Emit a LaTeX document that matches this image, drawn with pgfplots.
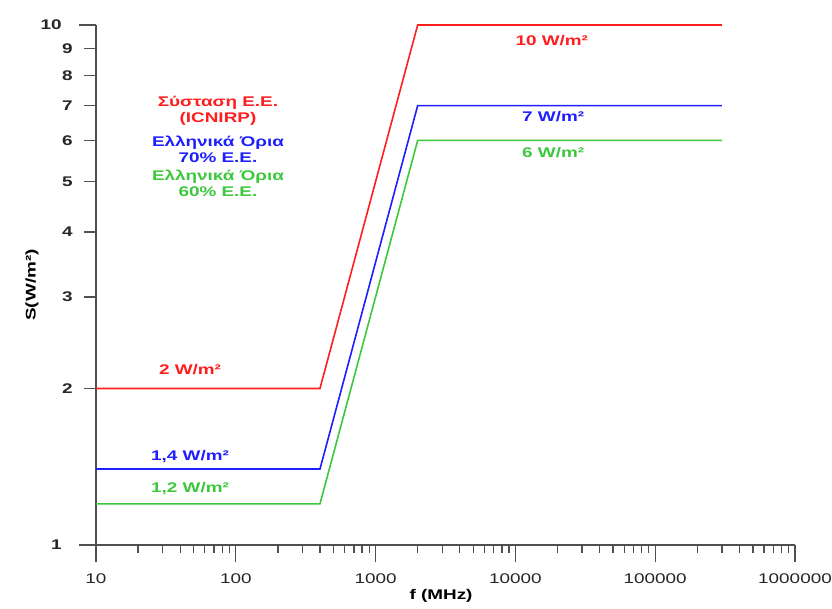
\documentclass[border=0pt]{standalone}
\usepackage{fontspec}
\setmainfont{Liberation Sans}[FakeStretch=1.35]
\usepackage{pgfplots}
\pgfplotsset{compat=1.18}
\definecolor{cred}{HTML}{FF1E1E}
\definecolor{cblue}{HTML}{1E1EFF}
\definecolor{cgreen}{HTML}{3CC83C}
\definecolor{axgray}{HTML}{505050}
\begin{document}
\begin{tikzpicture}
\begin{loglogaxis}[
  scale only axis, width=699pt, height=520pt,
  xmin=10, xmax=1000000, ymin=1, ymax=10,
  axis x line=bottom, axis y line=left,
  axis line style={-, axgray, line width=1.3pt},
  every tick/.style={axgray, line width=1.3pt},
  tick align=outside,
  major tick length=17pt, minor tick length=8pt,
  xtick={10,100,1000,10000,100000,1000000},
  xticklabels={10,100,1000,10000,100000,1000000},
  ytick={1,10}, yticklabels={1,10},
  extra y ticks={2,3,4,5,6,7,8,9},
  extra y tick labels={2,3,4,5,6,7,8,9},
  extra y tick style={major tick length=12pt, yticklabel style={xshift=6pt}},
  xticklabel style={font=\fontsize{14}{14}\selectfont, text=black!85, yshift=-8pt},
  yticklabel style={font=\bfseries\fontsize{14}{14}\selectfont, text=black!85, xshift=-14pt},
  xlabel={f (MHz)}, ylabel={S(W/m²)},
  every axis x label/.style={at={(axis description cs:0.4936,-0.098)}, anchor=center, font=\bfseries\fontsize{14}{14}\selectfont},
  every axis y label/.style={at={(axis description cs:-0.0916,0.5)}, anchor=center, rotate=90, font=\bfseries\fontsize{14}{14}\selectfont},
  clip=false,
]
\addplot[cred, line width=1.6pt] coordinates {(10,2) (400,2) (2000,10) (300000,10)};
\addplot[cblue, line width=1.6pt] coordinates {(10,1.4) (400,1.4) (2000,7) (300000,7)};
\addplot[cgreen, line width=1.6pt] coordinates {(10,1.2) (400,1.2) (2000,6) (300000,6)};
\begin{scope}[every node/.style={font=\bfseries\fontsize{14}{15.5}\selectfont, align=center}]
\node[text=cred] at (rel axis cs:0.1345,0.3365) {2 W/m²};
\node[text=cblue] at (rel axis cs:0.1345,0.171) {1,4 W/m²};
\node[text=cgreen] at (rel axis cs:0.1345,0.1077) {1,2 W/m²};
\node[text=cred] at (rel axis cs:0.652,0.971) {10 W/m²};
\node[text=cblue] at (rel axis cs:0.654,0.823) {7 W/m²};
\node[text=cgreen] at (rel axis cs:0.654,0.754) {6 W/m²};
\node[text=cred] at (rel axis cs:0.1745,0.8346) {Σύσταση Ε.Ε.\\(ICNIRP)};
\node[text=cblue] at (rel axis cs:0.1745,0.7606) {Ελληνικά Όρια\\70\% Ε.Ε.};
\node[text=cgreen] at (rel axis cs:0.1745,0.696) {Ελληνικά Όρια\\60\% Ε.Ε.};
\end{scope}
\end{loglogaxis}
\pgfresetboundingbox
\path[use as bounding box] (-96pt,-63pt) rectangle (736pt,545pt);
\end{tikzpicture}
\end{document}
